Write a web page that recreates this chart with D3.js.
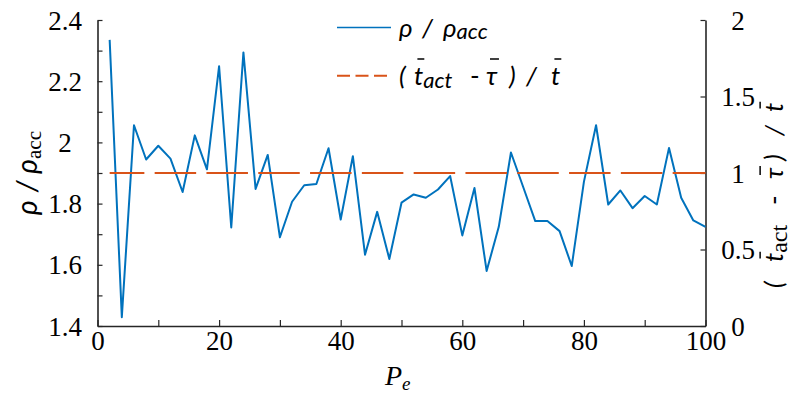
<!DOCTYPE html>
<html><head><meta charset="utf-8">
<script src="https://cdn.jsdelivr.net/npm/d3@7"></script>
<style>body{margin:0;background:#fff}svg{display:block}</style>
</head><body>
<svg id="c" width="792" height="400"></svg>
<script>
// ---- data ----
const peValues = [2,4,6,8,10,12,14,16,18,20,22,24,26,28,30,32,34,36,38,40,42,44,46,48,50,
                  52,54,56,58,60,62,64,66,68,70,72,74,76,78,80,82,84,86,88,90,92,94,96,98,100];
const rhoRatio = [2.335,1.429,2.056,1.944,1.989,1.947,1.838,2.023,1.912,2.249,1.722,2.294,1.848,1.959,1.690,1.806,
                  1.860,1.864,1.981,1.748,1.955,1.633,1.773,1.619,1.803,1.830,1.819,1.846,1.890,1.696,1.851,1.580,
                  1.724,1.967,1.855,1.743,1.743,1.710,1.596,1.871,2.056,1.797,1.843,1.785,1.825,1.797,1.982,1.819,1.745,1.724];
const tRatioValue = 1;            // (t_act - tau)/t, constant
const tRatioRange = [2, 100];
const xTicks = [0,10,20,30,40,50,60,70,80,90,100];
const xTickLabels = ["0","","20","","40","","60","","80","","100"];
const yLeftTicks = [1.4,1.5,1.6,1.7,1.8,1.9,2.0,2.1,2.2,2.3,2.4];
const yLeftTickLabels = ["1.4","","1.6","","1.8","","2","","2.2","","2.4"];
const yRightTicks = [0,0.5,1,1.5,2];
const yRightTickLabels = ["0","0.5","1","1.5","2"];

const BLUE = "#0072BD", ORANGE = "#D95319", AX = "#262626";
const svg = d3.select("#c");
const L = 97.5, R = 705.5, T = 20, B = 326;
const x = d3.scaleLinear().domain([0,100]).range([L,R]);
const yL = d3.scaleLinear().domain([1.4,2.4]).range([B,T]);
const yR = d3.scaleLinear().domain([0,2]).range([B,T]);
const SERIF = "'Liberation Serif','Times New Roman',serif";
const SANS = "Lato,'Open Sans',sans-serif";

function styleAxis(g){
  g.select(".domain").attr("stroke",AX).attr("stroke-width",1.6);
  g.selectAll(".tick line").attr("stroke",AX).attr("stroke-width",1.2);
  g.selectAll(".tick text").attr("fill","#000").style("font-family",SERIF).style("font-size","27px");
}
// bottom axis
const gx = svg.append("g").attr("transform",`translate(0,${B})`)
  .call(d3.axisBottom(x).tickValues(xTicks).tickSizeInner(-6).tickSizeOuter(0)
    .tickFormat((d,i)=>xTickLabels[i]));
styleAxis(gx);
gx.selectAll(".tick text").attr("y",24).attr("dy","0");
// left axis
const gl = svg.append("g").attr("transform",`translate(${L},0)`)
  .call(d3.axisLeft(yL).tickValues(yLeftTicks).tickSizeInner(-5).tickSizeOuter(0)
    .tickFormat((d,i)=>yLeftTickLabels[i]));
styleAxis(gl);
gl.selectAll(".tick text").attr("x",65-L).attr("text-anchor","middle").attr("dy","0.34em");
// right axis
const gr = svg.append("g").attr("transform",`translate(${R},0)`)
  .call(d3.axisRight(yR).tickValues(yRightTicks).tickSizeInner(-5).tickSizeOuter(0)
    .tickFormat((d,i)=>yRightTickLabels[i]));
styleAxis(gr);
gr.selectAll(".tick text").attr("x",738-R).attr("text-anchor","middle").attr("dy","0.34em");

// series
svg.append("path").datum(peValues.map((p,i)=>[p,rhoRatio[i]]))
  .attr("fill","none").attr("stroke",BLUE).attr("stroke-width",2).attr("stroke-linejoin","round")
  .attr("d",d3.line().x(d=>x(d[0])).y(d=>yL(d[1])));
svg.append("path").datum(tRatioRange.map(p=>[p,tRatioValue]))
  .attr("fill","none").attr("stroke",ORANGE).attr("stroke-width",2)
  .attr("stroke-dasharray","41.5,10.3").attr("stroke-dashoffset",6.8)
  .attr("d",d3.line().x(d=>x(d[0])).y(d=>yR(d[1])));

// rich text helper: each run may carry its own x (absolute, in the text's frame) or dx
function rich(parent, x0, y0, parts, opts){
  const g = parent.append("g").attr("transform",opts.transform||null);
  const t = g.append("text").attr("x",x0).attr("y",y0).attr("text-anchor",opts.anchor||"start")
    .attr("fill","#000");
  const runs = [];
  parts.forEach(p=>{
    const ts = t.append("tspan").text(p.t)
      .style("font-family",p.f||SANS).style("font-size",(p.s||opts.s)+"px")
      .style("font-style",p.i?"italic":"normal");
    if(p.x!=null) ts.attr("x",p.x);
    if(p.dy) ts.attr("dy",p.dy);
    if(p.dx) ts.attr("dx",p.dx);
    runs.push({node:ts.node(), p});
  });
  runs.forEach(r=>{
    if(!r.p.bar) return;
    const s = r.p.s||opts.s;
    const bb = r.node.getBBox();
    const x1 = bb.x + bb.width*0.2 + s*0.06, x2 = bb.x + bb.width*0.95 + s*0.06;
    const yb = y0 - s*(opts.bar||1.0);
    g.append("line").attr("x1",x1).attr("x2",x2).attr("y1",yb).attr("y2",yb)
      .attr("stroke","#000").attr("stroke-width",1.5);
  });
  return g;
}

// legend
svg.append("line").attr("x1",337).attr("x2",391).attr("y1",27.5).attr("y2",27.5)
  .attr("stroke",BLUE).attr("stroke-width",1.5);
rich(svg, 400, 37, [
  {t:"ρ", i:true, x:399},
  {t:"/", i:true, x:422},
  {t:"ρ", i:true, x:443},
  {t:"acc", i:true, s:22, dy:2}
], {s:26});
svg.append("line").attr("x1",337).attr("x2",391).attr("y1",75.7).attr("y2",75.7)
  .attr("stroke",ORANGE).attr("stroke-width",2).attr("stroke-dasharray","13,5.5");
rich(svg, 400, 85, [
  {t:"(", i:true, x:399},
  {t:"t", i:true, bar:true, x:414},
  {t:"act", i:true, s:22, dy:3},
  {t:"-", i:false, dy:-3, x:470},
  {t:"τ", i:true, bar:true, x:486},
  {t:")", i:true, x:509},
  {t:"/", i:true, x:526},
  {t:"t", i:true, bar:true, x:551}
], {s:26, bar:1.0});

// x label
rich(svg, 385, 385, [
  {t:"P", i:true, f:SERIF},
  {t:"e", i:true, f:SERIF, s:19, dy:5}
], {s:28});

// left y label
rich(svg, 0, 0, [
  {t:"ρ", i:true},
  {t:"/", i:true, dx:8},
  {t:"ρ", i:true, dx:8},
  {t:"acc", i:false, f:SERIF, s:21, dy:4}
], {s:28, anchor:"middle", transform:"translate(37,173) rotate(-90)"});

// right y label (reads bottom to top; local x = -screen y)
rich(svg, 0, 0, [
  {t:"(", i:true, x:-288},
  {t:"t", i:true, bar:true, x:-262},
  {t:"act", i:false, f:SERIF, s:24, dy:4},
  {t:"-", i:false, dy:-4, x:-205},
  {t:"τ", i:true, bar:true, x:-179},
  {t:")", i:true, x:-161},
  {t:"/", i:true, x:-136},
  {t:"t", i:true, bar:true, x:-112}
], {s:26, bar:0.88, transform:"translate(783,0) rotate(-90)"});
</script>
</body></html>
